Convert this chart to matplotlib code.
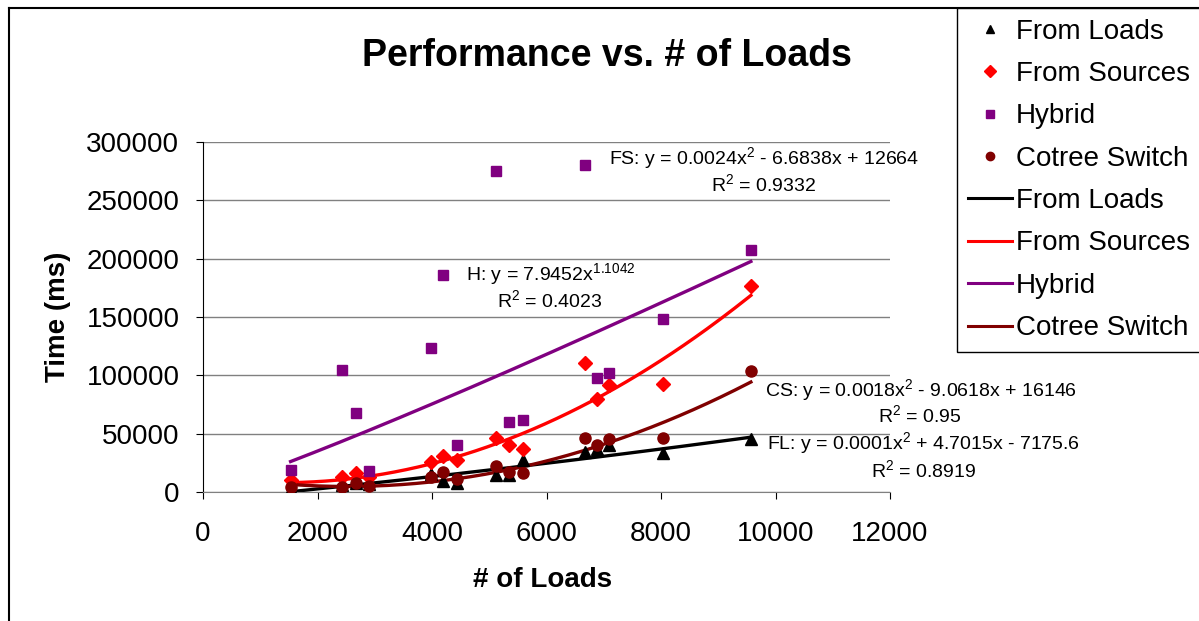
import numpy as np
import matplotlib
matplotlib.use('Agg')
import matplotlib.pyplot as plt
from matplotlib.lines import Line2D

plt.rcParams['font.family'] = 'Liberation Sans'
plt.rcParams['mathtext.fontset'] = 'custom'
plt.rcParams['mathtext.rm'] = 'Liberation Sans'
plt.rcParams['mathtext.it'] = 'Liberation Sans'

# number of loads for every test case (same for all methods)
n_loads = [1530, 2430, 2680, 2900, 3980, 4190, 4440, 5120, 5350, 5590,
           6670, 6880, 7100, 8030, 9570]

# time in ms
t_loads   = [2500, 6000, 7500, 6500, 15400, 9400, 7500, 14600, 14600, 27400,
             34600, 36600, 40300, 33200, 45200]
t_sources = [10500, 13000, 16000, 13000, 26000, 31000, 27500, 46000, 40300, 36600,
             111000, 79500, 92000, 92500, 176700]
t_hybrid  = [19000, 105000, 67500, 18300, 123800, 186000, 40300, 275500, 60300, 61500,
             280000, 97800, 102300, 148000, 207000]
t_cotree  = [4000, 4500, 8000, 5000, 12500, 16900, 11100, 22600, 17400, 16000,
             46600, 40300, 45200, 46600, 104000]

# trendline coefficients as printed on the chart
fl_poly = [0.0001, 4.7015, -7175.6]
fs_poly = [0.0024, -6.6838, 12664]
cs_poly = [0.0018, -9.0618, 16146]
h_pow = [7.9452, 1.1042]

names = ['From Loads', 'From Sources', 'Hybrid', 'Cotree Switch']
colors = ['black', '#FF0000', '#800080', '#800000']
markers = ['^', 'D', 's', 'o']
msizes = [8, 7, 7.5, 8]

W, H = 1199, 621
fig = plt.figure(figsize=(W / 100, H / 100), dpi=100)
ax = fig.add_axes([203 / W, 1 - 492 / H, 687 / W, 350 / H])

series = [t_loads, t_sources, t_hybrid, t_cotree]
for t, c, m, s in zip(series, colors, markers, msizes):
    ax.plot(n_loads, t, ls='none', marker=m, color=c, ms=s, zorder=3)

# trendlines, drawn over the range of the data like excel does
xx = np.linspace(min(n_loads), max(n_loads), 200)
ax.plot(xx, np.polyval(fl_poly, xx), color=colors[0], lw=2.4, zorder=2)
ax.plot(xx, np.polyval(fs_poly, xx), color=colors[1], lw=2.4, zorder=2)
ax.plot(xx, h_pow[0] * xx ** h_pow[1], color=colors[2], lw=2.4, zorder=2)
ax.plot(xx, np.polyval(cs_poly, xx), color=colors[3], lw=2.4, zorder=2)

ax.set_xlim(0, 12000)
ax.set_ylim(0, 300000)
ax.set_xticks(range(0, 12001, 2000))
ax.set_yticks(range(0, 300001, 50000))
ax.grid(axis='y', color='#808080', lw=1)
ax.set_axisbelow(True)
for sp in ['top', 'right']:
    ax.spines[sp].set_visible(False)
ax.spines['left'].set_color('black')
ax.spines['bottom'].set_color('#808080')
ax.tick_params(direction='out', length=5, labelsize=20, color='black')
ax.tick_params(axis='y', pad=12)
ax.tick_params(axis='x', pad=16)

fig.text(607 / W, 1 - 56 / H, 'Performance vs. # of Loads', ha='center', va='center',
         fontsize=27, fontweight='bold')
fig.text(58 / W, 1 - 317 / H, 'Time (ms)', ha='center', va='center', rotation=90,
         fontsize=20, fontweight='bold')
fig.text(543 / W, 1 - 580 / H, '# of Loads', ha='center', va='center',
         fontsize=20, fontweight='bold')

# trendline equations
eq = [
    (764, 158, 'FS: y = 0.0024x$^2$ - 6.6838x + 12664', 764, 184, 'R$^2$ = 0.9332'),
    (551, 274, 'H: y = 7.9452x$^{1.1042}$', 550, 300, 'R$^2$ = 0.4023'),
    (921, 390, 'CS: y = 0.0018x$^2$ - 9.0618x + 16146', 920, 415, 'R$^2$ = 0.95'),
    (924, 443, 'FL: y = 0.0001x$^2$ + 4.7015x - 7175.6', 924, 470, 'R$^2$ = 0.8919'),
]
for x1, y1, s1, x2, y2, s2 in eq:
    fig.text(x1 / W, 1 - y1 / H, s1, ha='center', va='center', fontsize=14)
    fig.text(x2 / W, 1 - y2 / H, s2, ha='center', va='center', fontsize=14)

# legend: markers first, then the trendlines
handles = []
for c, m in zip(colors, markers):
    handles.append(Line2D([], [], ls='none', marker=m, color=c, ms=6))
for c in colors:
    handles.append(Line2D([], [], color=c, lw=2.2))
leg = fig.legend(handles, names + names, loc='upper left',
                 bbox_to_anchor=(957 / W, 1 - 8 / H), fontsize=20,
                 fancybox=False, edgecolor='black', framealpha=1,
                 handlelength=1.6, handletextpad=0.15, labelspacing=0.59,
                 borderaxespad=0, borderpad=0.38)
leg.get_frame().set_linewidth(1)

# chart area border (cut off on the right and bottom)
fig.add_artist(Line2D([9 / W, 9 / W], [0, 1 - 8 / H], transform=fig.transFigure,
                      color='black', lw=1.5))
fig.add_artist(Line2D([9 / W, 1], [1 - 8 / H, 1 - 8 / H], transform=fig.transFigure,
                      color='black', lw=1.5))

fig.savefig('out.png', dpi=100)
